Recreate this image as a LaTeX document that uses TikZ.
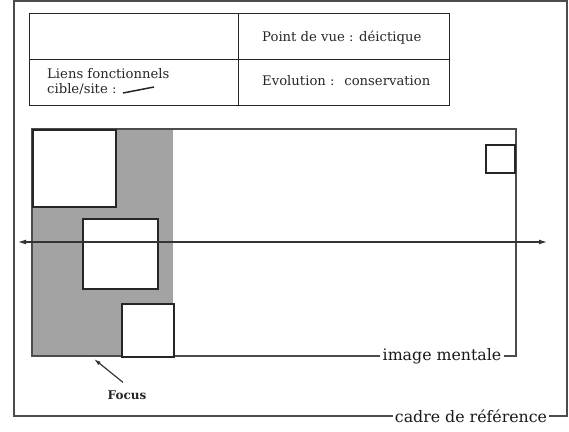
\documentclass[tikz,border=0pt]{standalone}
\usepackage{fontspec}
\setmainfont{DejaVu Serif}
\usetikzlibrary{positioning,arrows.meta}

\begin{document}
\begin{tikzpicture}[x=1pt, y=-1pt,
trait/.style={draw=black!70, line width=1.5pt},
cell/.style={draw=black!85, line width=1.3pt, minimum height=46pt, inner sep=0pt, anchor=north west},
boite/.style={draw=black!85, line width=1.8pt, fill=white, inner sep=0pt, anchor=north west},
txt/.style={font=\fontsize{13.2}{15}\selectfont, text=black!85, inner sep=0pt},
legende/.style={font=\fontsize{15.8}{18}\selectfont, text=black!90, inner sep=2pt},
fleche/.style={draw=black!80, line width=1.2pt}]
\useasboundingbox (0,0) rectangle (569,431);

\node[cell, minimum width=209pt] (c11) at (29,13) {};
\node[cell, minimum width=211pt] (c12) at (238,13) {};
\node[cell, minimum width=209pt] (c21) at (29,59) {};
\node[cell, minimum width=211pt] (c22) at (238,59) {};
\node[txt, anchor=west] (pdv) at (262,38) {Point de vue : déictique};
\node[txt, anchor=west] (evo) at (262,81) {Evolution :~ conservation};
\node[txt, anchor=west] (liens) at (47,74) {Liens fonctionnels};
\node[txt, anchor=west] (site) at (47,89) {cible/site :};
\draw[line width=1.5pt, black!85] (123,93) -- (154,87);

\fill[black!36] (32,129) rectangle (173,356);
\node[legende] (imentale) at (442,356) {image mentale};
\draw[trait] (imentale.west) -- (32,356) -- (32,129) -- (516,129) -- (516,356) -- (imentale.east);

\node[boite, minimum width=83pt, minimum height=77pt] (b1) at (32,129) {};
\node[boite, minimum width=75pt, minimum height=70pt] (b2) at (82,218) {};
\node[boite, minimum width=52pt, minimum height=53pt] (b3) at (121,303) {};
\node[boite, minimum width=29pt, minimum height=28pt, line width=1.6pt] (b4) at (485,144) {};

\node[legende] (cadre) at (471,416) {cadre de référence};
\draw[trait] (cadre.west) -- (14,416) -- (14,1) -- (567,1) -- (567,416) -- (cadre.east);

\coordinate (gauche) at (18,242);
\coordinate (droite) at (547,242);
\draw[fleche, {Latex[length=8pt,width=5pt]}-{Latex[length=8pt,width=5pt]}] (gauche) -- (droite);

\node[txt, font=\fontsize{12}{14}\selectfont\bfseries] (focus) at (127,395) {Focus};
\coordinate (cible) at (94,359);
\draw[fleche, -{Latex[length=7pt,width=4pt]}] ([xshift=-4pt,yshift=8pt]focus.north) -- (cible);
\end{tikzpicture}
\end{document}
